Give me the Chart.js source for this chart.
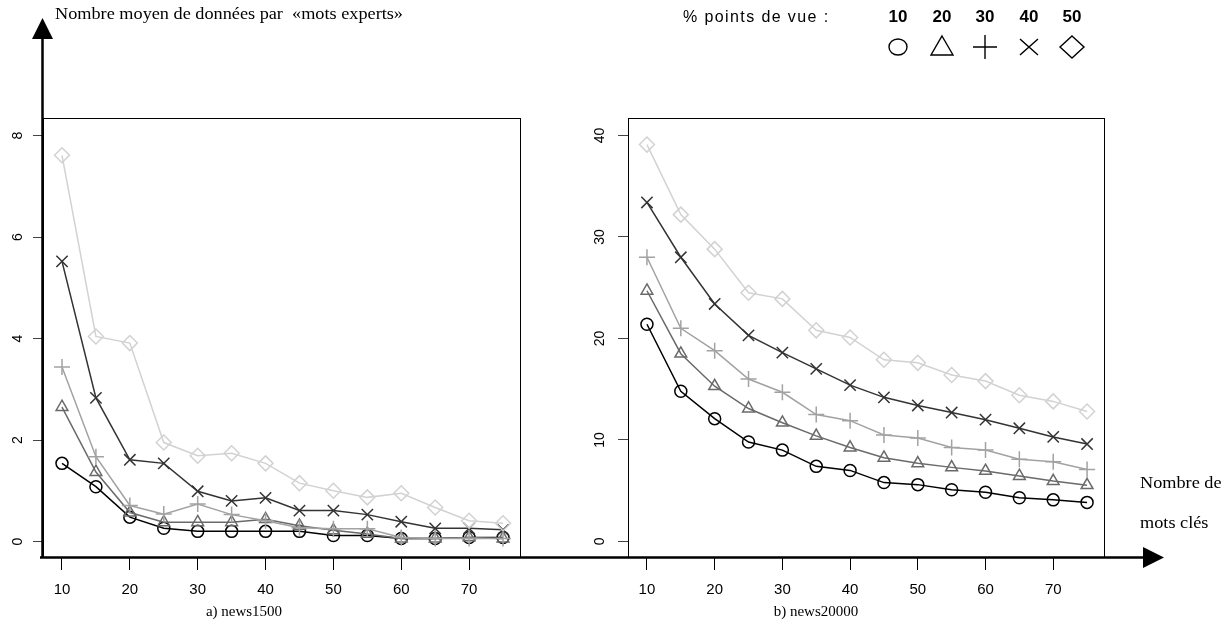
<!DOCTYPE html>
<html>
<head>
<meta charset="utf-8">
<script src="https://cdn.jsdelivr.net/npm/chart.js@4.4.1/dist/chart.umd.min.js"></script>
<style>
    body { margin: 0; background: #fff; width: 1230px; height: 634px; overflow: hidden; position: relative; }
    canvas { position: absolute; left: 0; top: 0; }
    .txt { position: absolute; white-space: nowrap; color: #000; line-height: 1; }
    .serif { font-family: "Liberation Serif", "Times New Roman", serif; }
    .sans { font-family: "Liberation Sans", Arial, sans-serif; }
</style>
</head>
<body>
<canvas id="news1500" width="1230" height="634"></canvas>
<canvas id="news20000" width="1230" height="634"></canvas>

<div class="txt serif" style="left:55px; top:6px; font-size:16px; transform:scaleX(1.14); transform-origin:0 0;">Nombre moyen de données par&nbsp; «mots experts»</div>
<div class="txt sans" style="left:683px; top:9px; font-size:16px; letter-spacing:1.4px;">% points de vue :</div>
<div id="legendNums"></div>
<svg id="legendMarks" width="1230" height="70" style="position:absolute; left:0; top:0;"></svg>
<div class="txt serif" style="left:1140px; top:475px; font-size:16px; transform:scaleX(1.14); transform-origin:0 0;">Nombre de</div>
<div class="txt serif" style="left:1140px; top:515px; font-size:16px; transform:scaleX(1.14); transform-origin:0 0;">mots clés</div>
<div class="txt serif" style="left:244px; top:604px; font-size:15px; transform:translateX(-50%);">a) news1500</div>
<div class="txt serif" style="left:816px; top:604px; font-size:15px; transform:translateX(-50%);">b) news20000</div>

<script>
// --- Data ---
const keywordCounts = [10, 15, 20, 25, 30, 35, 40, 45, 50, 55, 60, 65, 70, 75];
const xTickValues = [10, 20, 30, 40, 50, 60, 70];
const news1500Ticks = [0, 2, 4, 6, 8];
const news20000Ticks = [0, 10, 20, 30, 40];
const viewPercents = ['10', '20', '30', '40', '50'];

// news1500 : one array per "% points de vue"
const news1500_10 = [1.54, 1.08, 0.48, 0.26, 0.20, 0.20, 0.20, 0.20, 0.12, 0.12, 0.06, 0.06, 0.08, 0.08];
const news1500_20 = [2.65, 1.37, 0.57, 0.38, 0.38, 0.38, 0.44, 0.31, 0.22, 0.15, 0.06, 0.06, 0.08, 0.06];
const news1500_30 = [3.44, 1.67, 0.71, 0.54, 0.74, 0.53, 0.41, 0.27, 0.25, 0.25, 0.08, 0.06, 0.06, 0.06];
const news1500_40 = [5.52, 2.83, 1.61, 1.54, 0.99, 0.80, 0.86, 0.61, 0.61, 0.53, 0.39, 0.26, 0.26, 0.23];
const news1500_50 = [7.61, 4.04, 3.91, 1.95, 1.69, 1.74, 1.54, 1.15, 1.00, 0.87, 0.95, 0.67, 0.41, 0.36];

// news20000
const news20000_10 = [21.4, 14.8, 12.1, 9.8, 9.0, 7.4, 7.0, 5.8, 5.6, 5.1, 4.85, 4.3, 4.1, 3.85];
const news20000_20 = [24.7, 18.5, 15.3, 13.1, 11.7, 10.4, 9.25, 8.25, 7.7, 7.3, 6.95, 6.45, 5.95, 5.55];
const news20000_30 = [28.0, 21.0, 18.8, 16.0, 14.7, 12.5, 11.9, 10.5, 10.2, 9.25, 9.0, 8.1, 7.85, 7.1];
const news20000_40 = [33.4, 28.0, 23.4, 20.3, 18.6, 17.0, 15.4, 14.2, 13.4, 12.7, 12.0, 11.15, 10.3, 9.6];
const news20000_50 = [39.1, 32.2, 28.8, 24.5, 23.9, 20.8, 20.1, 17.9, 17.6, 16.4, 15.8, 14.4, 13.8, 12.8];

// --- Styles (one per series) ---
const seriesStyles = [
    { color: '#000000', pointStyle: 'circle', radius: 6 },
    { color: '#6a6a6a', pointStyle: 'triangle', radius: 6.8 },
    { color: '#a2a2a2', pointStyle: 'cross', radius: 8 },
    { color: '#333333', pointStyle: 'crossRot', radius: 8 },
    { color: '#d2d2d2', pointStyle: 'rectRot', radius: 7.5 }
];

function makeDatasets(seriesList) {
    return seriesList.map((values, i) => {
        const st = seriesStyles[i];
        return {
            label: viewPercents[i] + ' %',
            data: keywordCounts.map((k, j) => ({ x: k, y: values[j] })),
            borderColor: st.color,
            borderWidth: 1.5,
            pointStyle: st.pointStyle,
            pointRadius: st.radius,
            pointBorderColor: st.color,
            pointBackgroundColor: 'rgba(0,0,0,0)',
            pointBorderWidth: 1.5,
            tension: 0
        };
    }).reverse(); // light series underneath, dark ones on top
}

// Frame around the plotting area
const framePlugin = {
    id: 'frame',
    afterDraw(chart) {
        const { ctx, chartArea: a } = chart;
        ctx.save();
        ctx.strokeStyle = '#000';
        ctx.lineWidth = 1;
        ctx.strokeRect(a.left + 0.5, a.top + 0.5, a.right - a.left, a.bottom - a.top);
        ctx.restore();
    }
};

// The two big arrows (ordinate and abscissa)
const arrowPlugin = {
    id: 'arrows',
    afterDraw(chart) {
        const { ctx, chartArea: a } = chart;
        ctx.save();
        ctx.strokeStyle = '#000';
        ctx.fillStyle = '#000';
        ctx.lineWidth = 2.5;
        ctx.beginPath();
        ctx.moveTo(a.left - 0.5, a.bottom + 1);
        ctx.lineTo(a.left - 0.5, 36);
        ctx.moveTo(a.left - 3, a.bottom + 0.5);
        ctx.lineTo(1146, a.bottom + 0.5);
        ctx.stroke();
        ctx.beginPath();
        ctx.moveTo(a.left - 0.5, 18);
        ctx.lineTo(a.left + 10, 39);
        ctx.lineTo(a.left - 11, 39);
        ctx.closePath();
        ctx.fill();
        ctx.beginPath();
        ctx.moveTo(1164, a.bottom + 0.5);
        ctx.lineTo(1143, a.bottom - 10);
        ctx.lineTo(1143, a.bottom + 11);
        ctx.closePath();
        ctx.fill();
        ctx.restore();
    }
};

const xTickFont = { family: '"Liberation Sans", Arial, sans-serif', size: 15 };
const yTickFont = { family: '"Liberation Sans", Arial, sans-serif', size: 14 };

function buildPanel(canvasId, series, yTicks, yMin, yMax, padding, yLabelPad, extraPlugins) {
    return new Chart(document.getElementById(canvasId), {
        type: 'line',
        data: { datasets: makeDatasets(series) },
        options: {
            responsive: false,
            animation: false,
            layout: { padding: padding },
            plugins: { legend: { display: false }, tooltip: { enabled: false } },
            scales: {
                x: {
                    type: 'linear',
                    min: 7.2,
                    max: 77.5,
                    afterBuildTicks: (s) => { s.ticks = xTickValues.map(v => ({ value: v })); },
                    afterFit: (s) => { s.height = 50; },
                    grid: { drawOnChartArea: false, tickLength: 13, color: '#000' },
                    border: { color: '#000', width: 1 },
                    ticks: { color: '#000', font: xTickFont, padding: 11, maxRotation: 0, autoSkip: false }
                },
                y: {
                    type: 'linear',
                    min: yMin,
                    max: yMax,
                    afterBuildTicks: (s) => { s.ticks = yTicks.map(v => ({ value: v })); },
                    afterFit: (s) => { s.width = 43; },
                    grid: { drawOnChartArea: false, tickLength: 10, color: '#444' },
                    border: { color: '#000', width: 1 },
                    ticks: {
                        color: '#000', font: yTickFont, padding: yLabelPad,
                        minRotation: 90, maxRotation: 90, crossAlign: 'center', autoSkip: false
                    }
                }
            }
        },
        plugins: [framePlugin].concat(extraPlugins)
    });
}

buildPanel('news1500',
    [news1500_10, news1500_20, news1500_30, news1500_40, news1500_50],
    news1500Ticks, -0.305, 8.345,
    { left: 0, top: 118, right: 710, bottom: 27 }, 11, [arrowPlugin]);

buildPanel('news20000',
    [news20000_10, news20000_20, news20000_30, news20000_40, news20000_50],
    news20000Ticks, -1.53, 41.72,
    { left: 585, top: 118, right: 126, bottom: 27 }, 10, []);

// --- Legend: percentages and their marker symbols ---
const legendX = [898, 942, 985, 1029, 1072];
const nums = document.getElementById('legendNums');
viewPercents.forEach((p, i) => {
    const d = document.createElement('div');
    d.className = 'txt sans';
    d.style.cssText = `left:${legendX[i]}px; top:8px; font-size:17px; font-weight:bold; transform:translateX(-50%);`;
    d.textContent = p;
    nums.appendChild(d);
});
const svg = document.getElementById('legendMarks');
const cy = 47;
const marks = [
    `<ellipse cx="${legendX[0]}" cy="${cy}" rx="9" ry="8" />`,
    `<polygon points="${legendX[1]},${cy - 11} ${legendX[1] + 11},${cy + 8} ${legendX[1] - 11},${cy + 8}" />`,
    `<path d="M${legendX[2] - 12},${cy} H${legendX[2] + 12} M${legendX[2]},${cy - 12} V${cy + 12}" />`,
    `<path d="M${legendX[3] - 9},${cy - 8} L${legendX[3] + 9},${cy + 8} M${legendX[3] - 9},${cy + 8} L${legendX[3] + 9},${cy - 8}" />`,
    `<polygon points="${legendX[4]},${cy - 11} ${legendX[4] + 12},${cy} ${legendX[4]},${cy + 11} ${legendX[4] - 12},${cy}" />`
];
svg.innerHTML = `<g fill="none" stroke="#000" stroke-width="1.4">${marks.join('')}</g>`;
</script>
</body>
</html>
